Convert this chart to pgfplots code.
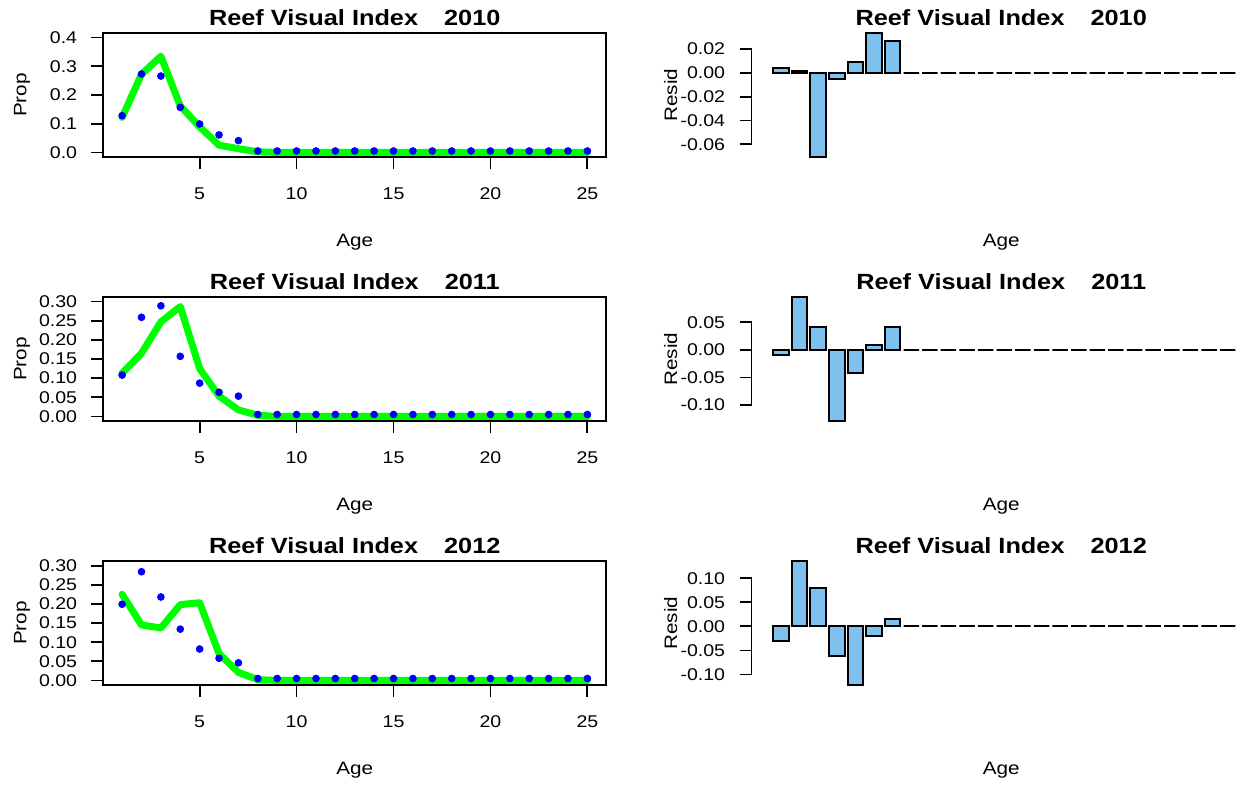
\documentclass[border=0pt]{standalone}
\usepackage{fontspec}
\setmainfont{Liberation Sans}[FakeStretch=1.15]
\usepackage{pgfplots}
\usepackage{pgfplotstable}
\pgfplotsset{compat=1.18}

\definecolor{obsblue}{RGB}{0,0,255}
\definecolor{predgreen}{RGB}{0,255,0}
\definecolor{barblue}{RGB}{126,192,238}

% observed and predicted proportions at age
\pgfplotstableread{
age obs pred
1 0.128 0.122
2 0.273 0.272
3 0.266 0.335
4 0.157 0.162
5 0.099 0.089
6 0.061 0.025
7 0.041 0.013
8 0.005 0.002
9 0.005 0
10 0.005 0
11 0.005 0
12 0.005 0
13 0.005 0
14 0.005 0
15 0.005 0
16 0.005 0
17 0.005 0
18 0.005 0
19 0.005 0
20 0.005 0
21 0.005 0
22 0.005 0
23 0.005 0
24 0.005 0
25 0.005 0
}\propA

\pgfplotstableread{
age obs pred
1 0.108 0.113
2 0.259 0.165
3 0.289 0.247
4 0.157 0.287
5 0.087 0.125
6 0.063 0.053
7 0.053 0.017
8 0.005 0.003
9 0.005 0
10 0.005 0
11 0.005 0
12 0.005 0
13 0.005 0
14 0.005 0
15 0.005 0
16 0.005 0
17 0.005 0
18 0.005 0
19 0.005 0
20 0.005 0
21 0.005 0
22 0.005 0
23 0.005 0
24 0.005 0
25 0.005 0
}\propB

\pgfplotstableread{
age obs pred
1 0.199 0.225
2 0.284 0.145
3 0.218 0.137
4 0.134 0.198
5 0.082 0.203
6 0.058 0.070
7 0.046 0.021
8 0.005 0.002
9 0.005 0
10 0.005 0
11 0.005 0
12 0.005 0
13 0.005 0
14 0.005 0
15 0.005 0
16 0.005 0
17 0.005 0
18 0.005 0
19 0.005 0
20 0.005 0
21 0.005 0
22 0.005 0
23 0.005 0
24 0.005 0
25 0.005 0
}\propC

% residuals
\pgfplotstableread{
age r10 r11 r12
1 0.0045 -0.0097 -0.031
2 0.0012 0.096 0.136
3 -0.0706 0.041 0.080
4 -0.0055 -0.129 -0.061
5 0.0095 -0.041 -0.122
6 0.0335 0.009 -0.019
7 0.0265 0.041 0.015
8 0 0 0
9 0 0 0
10 0 0 0
11 0 0 0
12 0 0 0
13 0 0 0
14 0 0 0
15 0 0 0
16 0 0 0
17 0 0 0
18 0 0 0
19 0 0 0
20 0 0 0
21 0 0 0
22 0 0 0
23 0 0 0
24 0 0 0
25 0 0 0
}\resid

\pgfplotsset{
  panel/.style={scale only axis, anchor=south west, height=62pt, clip=false,
    tick align=outside, tick pos=left, major tick length=6pt,
    every tick/.append style={black, line width=0.9pt},
    tick label style={font=\fontsize{8.5}{10}\selectfont},
    /pgf/number format/assume math mode=true,
    scaled y ticks=false,
    title style={at={(0.5,1)}, anchor=base, yshift=-2.35pt,
      font=\bfseries\fontsize{11}{13}\selectfont},
    xlabel style={at={(0.5,0)}, anchor=base, yshift=-44.85pt,
      font=\fontsize{9}{11}\selectfont},
    ylabel style={at={(-0.162,0.5)}, anchor=center,
      font=\fontsize{9}{11}\selectfont},
    xticklabel style={anchor=base, inner sep=0pt, yshift=-15pt},
    yticklabel style={anchor=east, inner sep=0pt, xshift=-7pt},
    xlabel={Age},
  },
  twodp/.style={yticklabel style={/pgf/number format/fixed,
    /pgf/number format/fixed zerofill, /pgf/number format/precision=2}},
  onedp/.style={yticklabel style={/pgf/number format/fixed,
    /pgf/number format/fixed zerofill, /pgf/number format/precision=1}},
  lpanel/.style={panel, width=251.25pt, xmin=0.04, xmax=25.96,
    xtick={5,10,15,20,25}, ylabel={Prop},
    axis line style={line width=1pt}},
  rpanel/.style={panel, twodp, width=249.7pt, xmin=-1, xmax=31.2,
    xtick=\empty, ylabel={Resid}, axis line style={draw=none}},
  obs/.style={only marks, mark=*, mark size=1.7pt, color=obsblue},
  pred/.style={predgreen, line width=3.5pt, line join=round, line cap=round, mark=none},
  res/.style={ybar, bar width=1, fill=barblue, draw=black, line width=1pt},
}

\begin{document}
\begin{tikzpicture}
\useasboundingbox (0,0) rectangle (620pt,392pt);

% 2010
\begin{axis}[lpanel, onedp, at={(51.75pt,313.5pt)}, ymin=-0.016, ymax=0.416,
  ytick={0,0.1,0.2,0.3,0.4},
  title={Reef Visual Index\hspace{13pt}2010}]
  \addplot[obs] table[x=age, y=obs] {\propA};
  \addplot[pred] table[x=age, y=pred] {\propA};
\end{axis}
\begin{axis}[rpanel, at={(375.75pt,313.5pt)}, ymin=-0.0706, ymax=0.0335,
  ytick={-0.06,-0.04,-0.02,0,0.02},
  title={Reef Visual Index\hspace{13pt}2010}]
  \draw[black, line width=0.9pt] (axis cs:-1,-0.06) -- (axis cs:-1,0.02);
  \addplot[res] table[x expr=1.2*\thisrow{age}-0.3, y=r10] {\resid};
\end{axis}

% 2011
\begin{axis}[lpanel, twodp, at={(51.75pt,181.5pt)}, ymin=-0.012, ymax=0.312,
  ytick={0,0.05,0.1,0.15,0.2,0.25,0.3},
  title={Reef Visual Index\hspace{13pt}2011}]
  \addplot[obs] table[x=age, y=obs] {\propB};
  \addplot[pred] table[x=age, y=pred] {\propB};
\end{axis}
\begin{axis}[rpanel, at={(375.75pt,181.5pt)}, ymin=-0.129, ymax=0.096,
  ytick={-0.1,-0.05,0,0.05},
  title={Reef Visual Index\hspace{13pt}2011}]
  \draw[black, line width=0.9pt] (axis cs:-1,-0.1) -- (axis cs:-1,0.05);
  \addplot[res] table[x expr=1.2*\thisrow{age}-0.3, y=r11] {\resid};
\end{axis}

% 2012
\begin{axis}[lpanel, twodp, at={(51.75pt,49.5pt)}, ymin=-0.012, ymax=0.312,
  ytick={0,0.05,0.1,0.15,0.2,0.25,0.3},
  title={Reef Visual Index\hspace{13pt}2012}]
  \addplot[obs] table[x=age, y=obs] {\propC};
  \addplot[pred] table[x=age, y=pred] {\propC};
\end{axis}
\begin{axis}[rpanel, at={(375.75pt,49.5pt)}, ymin=-0.122, ymax=0.136,
  ytick={-0.1,-0.05,0,0.05,0.1},
  title={Reef Visual Index\hspace{13pt}2012}]
  \draw[black, line width=0.9pt] (axis cs:-1,-0.1) -- (axis cs:-1,0.1);
  \addplot[res] table[x expr=1.2*\thisrow{age}-0.3, y=r12] {\resid};
\end{axis}
\end{tikzpicture}
\end{document}
